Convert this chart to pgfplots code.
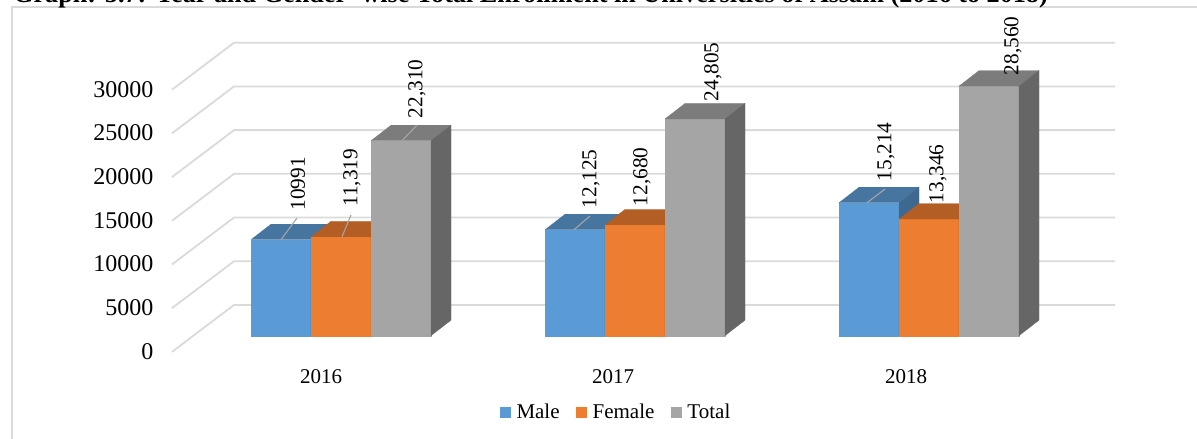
\documentclass[border=0pt]{standalone}
\usepackage{pgfplots}
\pgfplotsset{compat=1.18}
\usepackage{fontspec}
\setmainfont{Liberation Serif}
\definecolor{wallgrid}{HTML}{DADADA}
\definecolor{mF}{HTML}{5B9BD5}\definecolor{mT}{HTML}{46759F}\definecolor{mS}{HTML}{3D6990}
\definecolor{fF}{HTML}{ED7D31}\definecolor{fT}{HTML}{B25E25}\definecolor{fS}{HTML}{9A5120}
\definecolor{tF}{HTML}{A5A5A5}\definecolor{tT}{HTML}{7C7C7C}\definecolor{tS}{HTML}{666666}
% #1 left edge of the bar (x), #2 value, #3 colour prefix
\newcommand\solidbar[3]{%
  \addplot[forget plot,fill=#3F,draw=#3F,line width=.2pt] coordinates {(#1,0) (\the\numexpr#1+60\relax,0) (\the\numexpr#1+60\relax,#2) (#1,#2)} --cycle;
  \addplot[forget plot,fill=#3T,draw=#3T,line width=.2pt] coordinates {(#1,#2) (\the\numexpr#1+60\relax,#2) (\the\numexpr#1+80\relax,\the\numexpr#2+1773\relax) (\the\numexpr#1+20\relax,\the\numexpr#2+1773\relax)} --cycle;
  \addplot[forget plot,fill=#3S,draw=#3S,line width=.2pt] coordinates {(\the\numexpr#1+60\relax,0) (\the\numexpr#1+80\relax,1773) (\the\numexpr#1+80\relax,\the\numexpr#2+1773\relax) (\the\numexpr#1+60\relax,#2)} --cycle;
}
\newcommand\gridlevel[2]{%
  \addplot[forget plot,color=wallgrid,line width=1.8pt] coordinates {(172,#1) (234,#2) (1115,#2)};
}
\newcommand\leader[4]{%
  \addplot[forget plot,color=black!35,line width=1.1pt] coordinates {(#1,#2) (#3,#4)};
}
\begin{document}
\begin{tikzpicture}
\path[use as bounding box] (0,0) rectangle (1197pt,439pt);
\clip (0,0) rectangle (1197pt,439pt);
\begin{axis}[
  at={(0,0)},anchor=south west,
  scale only axis,width=1197pt,height=439pt,
  xmin=0,xmax=1197,ymin=-11819,ymax=38410,
  clip=false,
  axis line style={draw=none},
  major tick length=0pt,
  tick style={draw=none},
  xtick={321,613,906},
  xticklabels={2016,2017,2018},
  ytick={-1850,3150,8150,13150,18150,23150,28150},
  yticklabels={0,5000,10000,15000,20000,25000,30000},
  x tick label style={font=\fontsize{21}{21}\selectfont,anchor=center,yshift=62.5pt},
  y tick label style={font=\fontsize{24}{24}\selectfont,anchor=east,xshift=157pt,yshift=0.5pt},
  legend style={at={(axis cs:500,-8730)},anchor=west,draw=none,fill=none,inner sep=0pt,outer sep=0pt,
    legend columns=-1,font=\fontsize{21}{21}\selectfont,
    /tikz/every odd column/.append style={column sep=3.5pt},
    /tikz/every even column/.append style={column sep=14.5pt}},
  legend image code/.code={\path[draw=none,#1] (0pt,-5.5pt) rectangle (11pt,5.5pt);},
]
% outer frame
\addplot[forget plot,color=wallgrid,line width=1.8pt] coordinates {(12,-11819) (12,37570) (1197,37570)};
% back wall and side wall grid
\gridlevel{-1850}{3520}
\gridlevel{3150}{8520}
\gridlevel{8150}{13520}
\gridlevel{13150}{18520}
\gridlevel{18150}{23520}
\gridlevel{23150}{28520}
\gridlevel{28150}{33520}
% bars
\solidbar{251}{10991}{m}
\solidbar{311}{11319}{f}
\solidbar{371}{22310}{t}
\solidbar{545}{12125}{m}
\solidbar{605}{12680}{f}
\solidbar{665}{24805}{t}
\solidbar{839}{15214}{m}
\solidbar{899}{13346}{f}
\solidbar{959}{28560}{t}
% leader lines
\leader{281}{10991}{297}{13467}
\leader{342}{11319}{351}{13810}
\leader{402}{22310}{417}{24108}
\leader{574}{12125}{590}{13696}
\leader{867}{15214}{885}{16785}
% legend
\addlegendimage{fill=mF}\addlegendentry{Male}
\addlegendimage{fill=fF}\addlegendentry{Female}
\addlegendimage{fill=tF}\addlegendentry{Total}
% data labels
\begin{scope}[every node/.style={rotate=90,anchor=center,inner sep=0pt,font=\fontsize{21.3}{21.3}\selectfont}]
\node at (axis cs:298,17371) {10991};
\node at (axis cs:352,18058) {11,319};
\node at (axis cs:417,28241) {22,310};
\node at (axis cs:591,17943) {12,125};
\node at (axis cs:642,18172) {12,680};
\node at (axis cs:713,30186) {24,805};
\node at (axis cs:886,21033) {15,214};
\node at (axis cs:938,18516) {13,346};
\node at (axis cs:1013,33161) {28,560};
\end{scope}
\node[anchor=base west,inner sep=0pt,font=\fontsize{26.2}{26.2}\selectfont\bfseries] at (axis cs:13,38180)
  {Graph: 5.7: Year and Gender- wise Total Enrollment in Universities of Assam (2016 to 2018)};
\end{axis}
\end{tikzpicture}
\end{document}
